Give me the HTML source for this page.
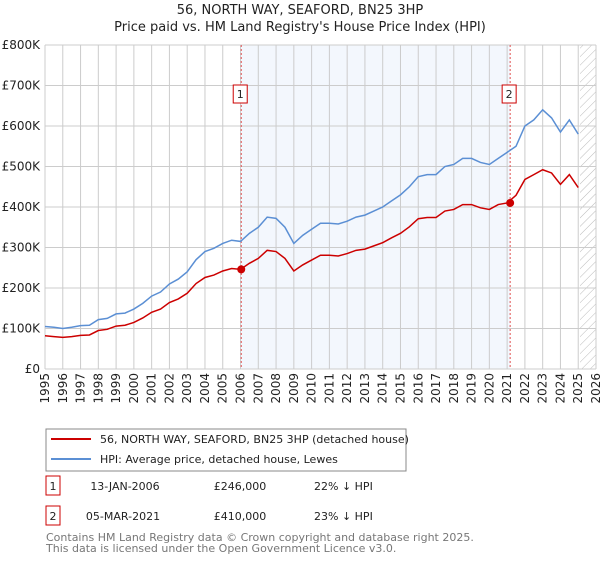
<!DOCTYPE html>
<html><head><meta charset="utf-8"><style>
body{margin:0;background:#fff;font-family:"Liberation Sans","DejaVu Sans",sans-serif;}
svg text{font-family:"DejaVu Sans","Liberation Sans",sans-serif;}
</style></head><body>
<svg id="c" width="600" height="560" xmlns="http://www.w3.org/2000/svg">
<defs><pattern id="hatch" width="6" height="6" patternUnits="userSpaceOnUse" patternTransform="rotate(45)"><line x1="0" y1="0" x2="0" y2="6" stroke="#bbb" stroke-width="1"/></pattern></defs>
<text x="300" y="14" text-anchor="middle" font-size="13" fill="#222">56, NORTH WAY, SEAFORD, BN25 3HP</text>
<text x="300" y="31" text-anchor="middle" font-size="13" fill="#222">Price paid vs. HM Land Registry's House Price Index (HPI)</text>
<g id="grid"></g><g id="series"></g>
<g>
<rect x="46" y="429" width="360" height="42" fill="#fff" stroke="#888"/>
<line x1="51" y1="439" x2="91" y2="439" stroke="#cc0000" stroke-width="2"/>
<text x="100" y="443" font-size="11" fill="#222">56, NORTH WAY, SEAFORD, BN25 3HP (detached house)</text>
<line x1="51" y1="459" x2="91" y2="459" stroke="#5b8fd4" stroke-width="2"/>
<text x="100" y="463" font-size="11" fill="#222">HPI: Average price, detached house, Lewes</text>
</g>
<g font-size="11" fill="#222">
<rect x="46" y="476" width="14" height="19" fill="#fff" stroke="#cc0000"/><text x="53" y="490" text-anchor="middle">1</text>
<text x="125" y="490" text-anchor="middle">13-JAN-2006</text><text x="240" y="490" text-anchor="middle">£246,000</text><text x="314" y="490">22% ↓ HPI</text>
<rect x="46" y="506" width="14" height="19" fill="#fff" stroke="#cc0000"/><text x="53" y="520" text-anchor="middle">2</text>
<text x="123" y="520" text-anchor="middle">05-MAR-2021</text><text x="240" y="520" text-anchor="middle">£410,000</text><text x="314" y="520">23% ↓ HPI</text>
</g>
<text x="46" y="541" font-size="11" fill="#777">Contains HM Land Registry data © Crown copyright and database right 2025.</text>
<text x="46" y="552" font-size="11" fill="#777">This data is licensed under the Open Government Licence v3.0.</text>
</svg>
<script>
const hpiDates=[1995,1995.5,1996,1996.5,1997,1997.5,1998,1998.5,1999,1999.5,2000,2000.5,2001,2001.5,2002,2002.5,2003,2003.5,2004,2004.5,2005,2005.5,2006,2006.5,2007,2007.5,2008,2008.5,2009,2009.5,2010,2010.5,2011,2011.5,2012,2012.5,2013,2013.5,2014,2014.5,2015,2015.5,2016,2016.5,2017,2017.5,2018,2018.5,2019,2019.5,2020,2020.5,2021,2021.5,2022,2022.5,2023,2023.5,2024,2024.5,2025];
const hpiValues=[105,103,100,103,107,108,122,125,136,138,148,162,180,190,210,222,240,270,290,298,310,318,315,335,350,375,372,350,310,330,345,360,360,358,365,375,380,390,400,415,430,450,475,480,480,500,505,520,520,510,505,520,535,550,600,615,640,620,585,615,580];
const priceValues=[82,80,78,80,83,84,95,98,106,108,115,126,140,148,164,173,187,211,226,232,242,248,246,261,273,293,290,273,242,257,269,281,281,279,285,293,296,304,312,324,335,351,371,374,374,390,394,406,406,398,394,406,410,429,468,480,492,484,456,480,448];
const saleDates=[2006.04,2021.17];
const saleValues=[246,410];
const saleLabels=["1","2"];
const yTicks=[0,100,200,300,400,500,600,700,800];
const yTickLabels=["£0","£100K","£200K","£300K","£400K","£500K","£600K","£700K","£800K"];
const xYears=[1995,1996,1997,1998,1999,2000,2001,2002,2003,2004,2005,2006,2007,2008,2009,2010,2011,2012,2013,2014,2015,2016,2017,2018,2019,2020,2021,2022,2023,2024,2025,2026];
const NS="http://www.w3.org/2000/svg";
const X0=45,X1=596,Y0=369,Y1=45;
const xs=y=>X0+(y-1995)/(2026-1995)*(X1-X0);
const ys=v=>Y0-v/800*(Y0-Y1);
const grid=document.getElementById('grid'),ser=document.getElementById('series');
function mk(tag,at,par){const e=document.createElementNS(NS,tag);for(const k in at)e.setAttribute(k,at[k]);par.appendChild(e);return e;}
let r=mk('rect',{x:xs(saleDates[0]),y:Y1,width:xs(saleDates[1])-xs(saleDates[0]),height:Y0-Y1,fill:'#eef3fc',opacity:0.7},grid);


let h=mk('rect',{x:xs(2025.1),y:Y1,width:X1-xs(2025.1),height:Y0-Y1,fill:'url(#hatch)'},grid);


xYears.forEach(y=>{const l=mk('line',{x1:xs(y),x2:xs(y),y1:Y1,y2:Y0,stroke:'#ccc','stroke-width':1},grid);


const t=mk('text',{x:0,y:0,'font-size':12,fill:'#222','text-anchor':'end',transform:`translate(${xs(y)+4},373) rotate(-90)`},grid);t.textContent=y;

});
yTicks.forEach((v,i)=>{const l=mk('line',{x1:X0,x2:X1,y1:ys(v),y2:ys(v),stroke:'#ccc','stroke-width':1},grid);


const t=mk('text',{x:40,y:ys(v)+4,'font-size':12,fill:'#222','text-anchor':'end'},grid);t.textContent=yTickLabels[i];

});
saleDates.forEach((d,i)=>{const l=mk('line',{x1:xs(d),x2:xs(d),y1:Y1,y2:Y0,stroke:'#e05050','stroke-dasharray':'2,2','stroke-width':1},ser);

});
const hp=mk('polyline',{points:hpiDates.map((d,i)=>xs(d)+','+ys(hpiValues[i])).join(' '),fill:'none',stroke:'#5b8fd4','stroke-width':1.5},ser);


const pp=mk('polyline',{points:hpiDates.map((d,i)=>xs(d)+','+ys(priceValues[i])).join(' '),fill:'none',stroke:'#cc0000','stroke-width':1.5},ser);


saleDates.forEach((d,i)=>{const c=mk('circle',{cx:xs(d),cy:ys(saleValues[i]),r:4,fill:'#cc0000'},ser);


const b=mk('rect',{x:xs(d)-8,y:85,width:14,height:18,fill:'#fff',stroke:'#cc0000'},ser);


const t=mk('text',{x:xs(d)-1,y:98,'font-size':11,fill:'#222','text-anchor':'middle'},ser);t.textContent=saleLabels[i];

});
</script>
</body></html>
